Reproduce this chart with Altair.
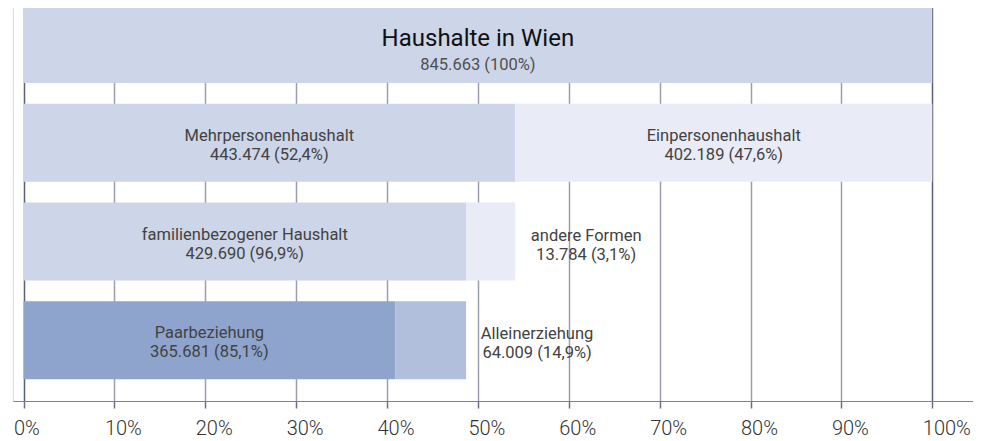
import altair as alt
import pandas as pd

# ---- data ----
segment_names = ["Haushalte in Wien", "Mehrpersonenhaushalt", "Einpersonenhaushalt",
                 "familienbezogener Haushalt", "andere Formen", "Paarbeziehung", "Alleinerziehung"]
segment_rows = [1, 2, 2, 3, 3, 4, 4]
segment_counts = [845663, 443474, 402189, 429690, 13784, 365681, 64009]
segment_shares = [100, 52.4, 47.6, 96.9, 3.1, 85.1, 14.9]
bar_from = [0, 0, 54.1, 0, 48.7, 0, 40.9]
bar_to = [100, 54.1, 100, 48.7, 54.1, 40.9, 48.7]
segment_tones = ["base", "base", "light", "base", "light", "dark", "mid"]
label_inside = [True, True, True, True, False, True, False]
tick_values = [0, 10, 20, 30, 40, 50, 60, 70, 80, 90, 100]

tone_domain = ["base", "light", "dark", "mid"]
tone_colors = ["#cdd5e8", "#e9ecf6", "#8ea4cd", "#b1bfdd"]


def fmt_count(n):
    return f"{n:,}".replace(",", ".")


def fmt_share(s):
    if float(s).is_integer():
        return f"{int(s)}%"
    return f"{s:.1f}".replace(".", ",") + "%"


df = pd.DataFrame({
    "name": segment_names,
    "row": segment_rows,
    "from": bar_from,
    "to": bar_to,
    "tone": segment_tones,
    "inside": label_inside,
})
df["value"] = [f"{fmt_count(c)} ({fmt_share(s)})" for c, s in zip(segment_counts, segment_shares)]
df["label"] = df["name"] + "\n" + df["value"]
df["mid"] = (df["from"] + df["to"]) / 2

yscale = alt.Scale(paddingInner=0.2095, paddingOuter=0.11, align=0)
yenc = alt.Y("row:O", axis=None, scale=yscale)

xscale = alt.Scale(domain=[-1.156, 104.48], nice=False, zero=False)
xaxis = alt.Axis(
    values=tick_values,
    labelExpr="datum.value + '%'",
    title=None,
    grid=True,
    gridColor={"condition": {"test": "datum.value === 0 || datum.value === 100", "value": "#5a6079"},
               "value": "#9a9eb0"},
    gridWidth=1.5,
    tickSize=7,
    tickColor="#6b7088",
    tickWidth=1.5,
    domainColor="#7a8096",
    domainWidth=1.2,
    labelAlign="left",
    labelOffset=-10,
    labelPadding=10,
    labelFontSize=20,
    labelFont="Roboto",
    labelFontWeight=300,
    labelColor="#333333",
    labelBaseline="top",
)

base = alt.Chart(df)

bars = base.mark_bar().encode(
    x=alt.X("from:Q", scale=xscale, axis=xaxis),
    x2="to:Q",
    y=yenc,
    color=alt.Color("tone:N", scale=alt.Scale(domain=tone_domain, range=tone_colors), legend=None),
)

title_text = base.transform_filter("datum.row == 1").mark_text(
    font="Roboto", fontSize=24, color="#111111", baseline="alphabetic", dy=2
).encode(x="mid:Q", y=yenc, text="name:N")

title_value = base.transform_filter("datum.row == 1").mark_text(
    font="Roboto", fontSize=16.5, color="#505050", baseline="alphabetic", dy=26
).encode(x="mid:Q", y=yenc, text="value:N")

inside_text = base.transform_filter("datum.row > 1 && datum.inside").mark_text(
    font="Roboto", fontSize=16.5, lineHeight=19, color="#424242", baseline="alphabetic",
    dy=-2, lineBreak="\n"
).encode(x="mid:Q", y=yenc, text="label:N")

outside_text = base.transform_filter("!datum.inside").mark_text(
    font="Roboto", fontSize=16.5, lineHeight=19, color="#424242", baseline="alphabetic",
    dy=-1, dx=71, lineBreak="\n"
).encode(x="to:Q", y=yenc, text="label:N")

chart = alt.layer(bars, title_text, title_value, inside_text, outside_text).properties(
    width=960,
    height=396,
    padding={"left": 5, "right": 0, "top": -3, "bottom": 0},
).configure_view(stroke=None).configure(background="white")

chart.save("out.html", embed_options={"renderer": "svg", "actions": False})
